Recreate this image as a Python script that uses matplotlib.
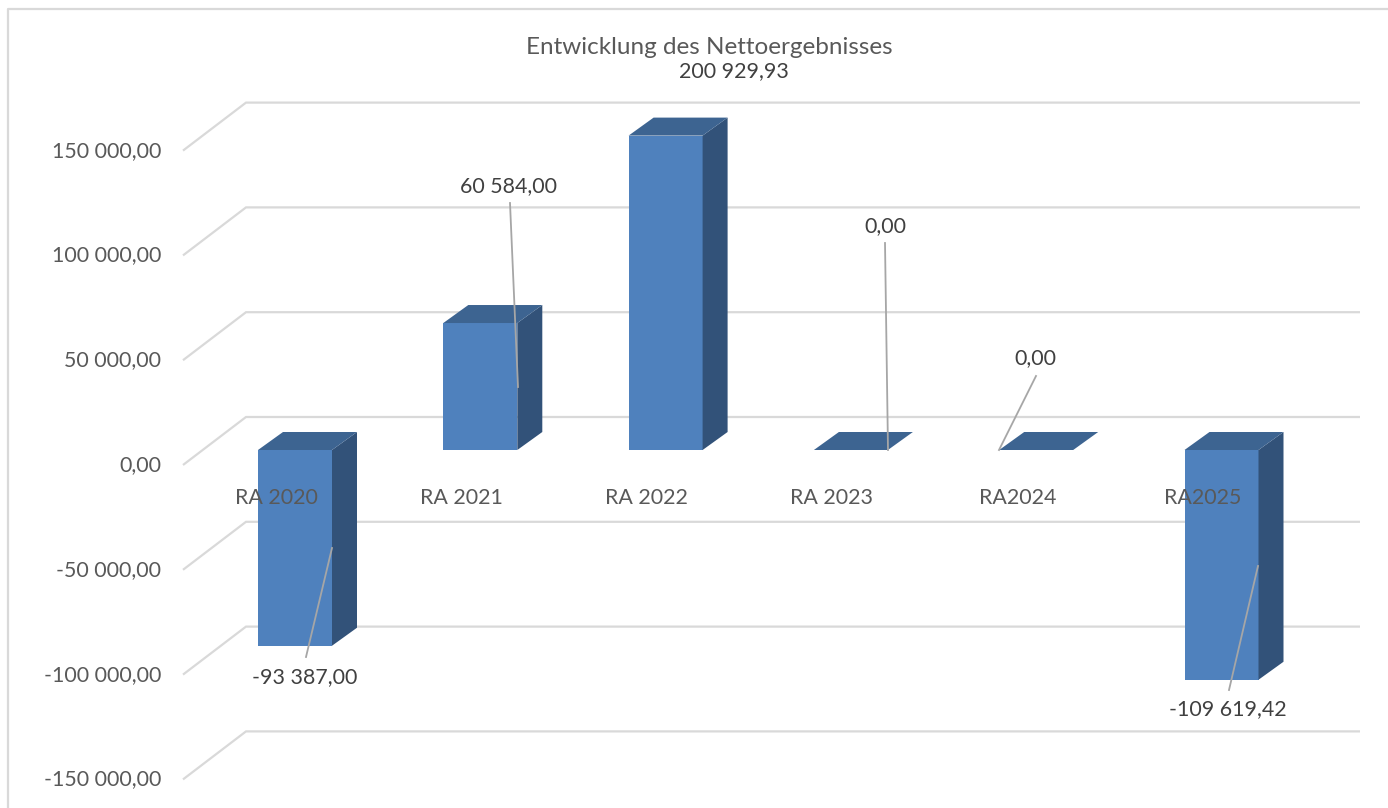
import matplotlib
matplotlib.use("Agg")
import matplotlib.pyplot as plt
import numpy as np
from matplotlib.patches import Polygon
from matplotlib.transforms import Affine2D

plt.rcParams['font.family'] = ['Lato', 'DejaVu Sans']

TITLE = "Entwicklung des Nettoergebnisses"
categories = ["RA 2020", "RA 2021", "RA 2022", "RA 2023", "RA2024", "RA2025"]
values = [-93387.00, 60584.00, 200929.93, 0.00, 0.00, -109619.42]
value_labels = ["-93 387,00", "60 584,00", "200 929,93", "0,00", "0,00", "-109 619,42"]
y_ticks = [150000, 100000, 50000, 0, -50000, -100000, -150000]
y_tick_labels = ["150 000,00", "100 000,00", "50 000,00", "0,00",
                 "-50 000,00", "-100 000,00", "-150 000,00"]
Y_MAX = 150000  # the 2022 bar gets cut off here, its label is above it

# layout in pixels of the 1388x808 picture
W, H = 1388, 808
ZERO_PX = 450
PX_PER_UNIT = 2.096 / 1000
CAT_STEP = 185.3
CAT_0_PX = 295
BAR_W = 74
DEPTH_X, DEPTH_Y = 25, 18
label_pos = [(305, 677), (509, 186), (734, 71), (885, 226), (1035, 358), (1228, 709)]
leaders = [((306, 657), (332, 548)), ((510, 203), (518, 387)), None,
           ((885, 243), (888, 450)), ((1036, 376), (999, 450)), ((1229, 690), (1258, 566))]

FRONT = "#4F81BD"
TOP = "#3D6491"
SIDE = "#325279"
GRID = "#D9D9D9"
AXIS_TXT = "#595959"
LABEL_TXT = "#404040"
LEADER = "#A6A6A6"
FS = 15.4

fig = plt.figure(figsize=(W / 100, H / 100), dpi=100)
ax = fig.add_axes([0, 0, 1, 1])
ax.set_xlim(-CAT_0_PX / CAT_STEP, (W - CAT_0_PX) / CAT_STEP)
ax.set_ylim(-(H - ZERO_PX) / PX_PER_UNIT, ZERO_PX / PX_PER_UNIT)
ax.axis('off')

# pixel coords, y pointing down, for things that are not data
px = Affine2D().scale(1, -1).translate(0, H)

dx = DEPTH_X / CAT_STEP
dy = DEPTH_Y / PX_PER_UNIT
half = BAR_W / CAT_STEP / 2


def xpx(p):
    return (p - CAT_0_PX) / CAT_STEP


# chart frame
ax.plot([7.5, 7.5, W], [H, 9, 9], color=GRID, lw=1.6, transform=px, clip_on=False, zorder=1)

# walls / gridlines, front edge is 15px under the bars' base, back wall 33px above
for v, lab in zip(y_ticks, y_tick_labels):
    front = v - 15 / PX_PER_UNIT
    back = v + 33 / PX_PER_UNIT
    ax.plot([xpx(183), xpx(246), xpx(1360)], [front, back, back], color=GRID, lw=1.6,
            solid_joinstyle='miter', solid_capstyle='butt', zorder=1)
    ax.text(xpx(161), v - 15 / PX_PER_UNIT, lab, ha='right', va='center', fontsize=FS,
            color=AXIS_TXT, zorder=6)

x = np.arange(len(categories))
shown = np.minimum(values, Y_MAX)

ax.bar(x, shown, width=2 * half, color=FRONT, zorder=3)
for xi, v in zip(x, shown):
    top = max(v, 0)
    low = min(v, 0)
    ax.add_patch(Polygon([(xi - half, top), (xi + half, top), (xi + half + dx, top + dy),
                          (xi - half + dx, top + dy)], closed=True, color=TOP, lw=0, zorder=4))
    ax.add_patch(Polygon([(xi + half, top), (xi + half + dx, top + dy), (xi + half + dx, low + dy),
                          (xi + half, low)], closed=True, color=SIDE, lw=0, zorder=3))

for xi, c in zip(x, categories):
    ax.text(xi - 19 / CAT_STEP, -47.5 / PX_PER_UNIT, c, ha='center', va='center', fontsize=FS,
            color=AXIS_TXT, zorder=6)

for lab, pos, lead in zip(value_labels, label_pos, leaders):
    ax.text(pos[0], pos[1], lab, ha='center', va='center', fontsize=FS, color=LABEL_TXT,
            transform=px, zorder=6)
    if lead:
        ax.plot([lead[0][0], lead[1][0]], [lead[0][1], lead[1][1]], color=LEADER, lw=1.3,
                transform=px, zorder=5)

ax.text(709, 47, TITLE, ha='center', va='center', fontsize=17.5, color=AXIS_TXT, transform=px)

fig.savefig("out.png", dpi=100)
